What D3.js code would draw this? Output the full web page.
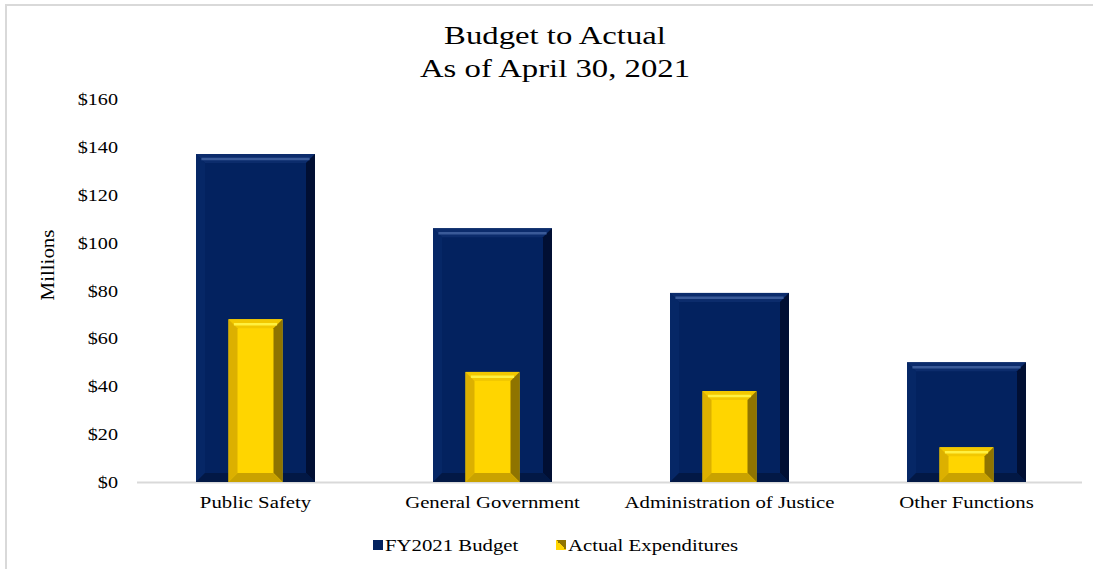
<!DOCTYPE html>
<html>
<head>
<meta charset="utf-8">
<script src="https://cdn.jsdelivr.net/npm/d3@7"></script>
<style>
  body { margin: 0; background: #fff; }
  text { font-family: "Liberation Serif", "Times New Roman", serif; fill: #000; }
</style>
</head>
<body>
<script>
let categorias = ["Public Safety", "General Government", "Administration of Justice", "Other Functions"];
let presupuesto = [137, 106, 79, 50];
let gastos = [68, 46, 38, 14.5];
let ticks = [0, 20, 40, 60, 80, 100, 120, 140, 160];
let series = ["FY2021 Budget", "Actual Expenditures"];

// el original tiene el texto estirado a lo ancho
let estirar = 1.26;

function graficar() {
  let w = 1093;
  let h = 569;

  let svg = d3.select("body").append("svg").attr("width", w).attr("height", h);

  // borde gris del área del gráfico
  svg.append("path")
    .attr("d", "M6,569 L6,5 L1093,5")
    .attr("fill", "none")
    .attr("stroke", "#d9d9d9")
    .attr("stroke-width", 2);

  let x = d3.scaleBand().domain(categorias).range([137, 1085]).padding(0);
  let y = d3.scaleLinear().domain([0, 160]).range([482, 99]);

  function texto(px, py, cadena, tam, ancla) {
    return svg.append("text")
      .attr("transform", `translate(${px},${py}) scale(${estirar},1)`)
      .attr("text-anchor", ancla || "middle")
      .style("font-size", tam + "px")
      .text(cadena);
  }

  // título
  texto(555, 44, "Budget to Actual", 26);
  texto(555, 77, "As of April 30, 2021", 26);

  // eje y
  let ejeY = svg.append("g").attr("transform", "translate(118,0)")
    .call(d3.axisLeft(y).tickValues(ticks).tickSize(0).tickPadding(0)
      .tickFormat(d => "$" + d));
  ejeY.select(".domain").remove();
  ejeY.selectAll("text")
    .attr("x", 0)
    .attr("transform", `scale(${estirar},1)`)
    .style("font-size", "16px")
    .style("font-family", "'Liberation Serif', serif").attr("dy", "0.35em");

  svg.append("text")
    .attr("transform", `translate(54,265) rotate(-90) scale(1.1,1)`)
    .attr("text-anchor", "middle")
    .style("font-size", "19px")
    .text("Millions");

  // línea base
  svg.append("line").attr("x1", 137).attr("x2", 1082)
    .attr("y1", y(0) + 0.5).attr("y2", y(0) + 0.5)
    .attr("stroke", "#d9d9d9").attr("stroke-width", 2);

  // barras con bisel
  function biselar(g, xs, anchos, valores, colores, b) {
    let grupo = g.selectAll("g.bar").data(valores).enter().append("g").attr("class", "bar");
    let x0 = (d, i) => xs(i) - anchos / 2;
    let x1 = (d, i) => xs(i) + anchos / 2;
    let y0 = d => y(d);
    let y1 = y(0);
    grupo.append("rect")
      .attr("x", x0).attr("y", y0)
      .attr("width", anchos).attr("height", d => y1 - y(d))
      .attr("fill", colores.cuerpo);
    // arriba
    grupo.append("path").attr("fill", colores.arriba).attr("d", (d, i) => {
      let bb = Math.min(b, (y1 - y(d)) / 2);
      return `M${x0(d, i)},${y0(d)} L${x1(d, i)},${y0(d)} L${x1(d, i) - bb},${y0(d) + bb} L${x0(d, i) + bb},${y0(d) + bb}Z`;
    });
    // izquierda
    grupo.append("path").attr("fill", colores.izq).attr("d", (d, i) => {
      let bb = Math.min(b, (y1 - y(d)) / 2);
      return `M${x0(d, i)},${y0(d)} L${x0(d, i) + bb},${y0(d) + bb} L${x0(d, i) + bb},${y1 - bb} L${x0(d, i)},${y1}Z`;
    });
    // derecha
    grupo.append("path").attr("fill", colores.der).attr("d", (d, i) => {
      let bb = Math.min(b, (y1 - y(d)) / 2);
      return `M${x1(d, i)},${y0(d)} L${x1(d, i) - bb},${y0(d) + bb} L${x1(d, i) - bb},${y1 - bb} L${x1(d, i)},${y1}Z`;
    });
    // abajo
    grupo.append("path").attr("fill", colores.abajo).attr("d", (d, i) => {
      let bb = Math.min(b, (y1 - y(d)) / 2);
      return `M${x0(d, i)},${y1} L${x0(d, i) + bb},${y1 - bb} L${x1(d, i) - bb},${y1 - bb} L${x1(d, i)},${y1}Z`;
    });
    // brillo en el borde superior del bisel
    grupo.append("line")
      .attr("x1", (d, i) => x0(d, i) + b * 0.6).attr("x2", (d, i) => x1(d, i) - b * 0.6)
      .attr("y1", d => y0(d) + b * 0.55).attr("y2", d => y0(d) + b * 0.55)
      .attr("stroke", colores.brillo).attr("stroke-width", 2.5);
  }

  let centro = i => x(categorias[i]) + x.bandwidth() / 2;

  biselar(svg.append("g"), centro, 119, presupuesto, {
    cuerpo: "#03225f", arriba: "#0c2c6c", izq: "#062766", der: "#010f33", abajo: "#021845", brillo: "#3a5a98"
  }, 9);

  biselar(svg.append("g"), centro, 54, gastos, {
    cuerpo: "#ffd500", arriba: "#f2c800", izq: "#dcb000", der: "#8f7400", abajo: "#c9a200", brillo: "#fff040"
  }, 9);

  // categorías
  categorias.forEach((d, i) => texto(centro(i), 508, d, 16.5));

  // leyenda
  let defs = svg.append("defs");
  let grad = defs.append("linearGradient").attr("id", "leyAmarilla")
    .attr("x1", "0").attr("y1", "1").attr("x2", "1").attr("y2", "0");
  grad.append("stop").attr("offset", "0.5").attr("stop-color", "#ffd500");
  grad.append("stop").attr("offset", "0.5").attr("stop-color", "#8f7400");

  let posX = [373, 556];
  let rellenos = ["#03225f", "url(#leyAmarilla)"];
  svg.append("g").selectAll("rect").data(series).enter().append("rect")
    .attr("x", (d, i) => posX[i]).attr("y", 540)
    .attr("width", 10).attr("height", 10)
    .attr("fill", (d, i) => rellenos[i]);
  series.forEach((d, i) => texto(posX[i] + 12, 551, d, 16.5, "start"));
}

graficar();
</script>
</body>
</html>
